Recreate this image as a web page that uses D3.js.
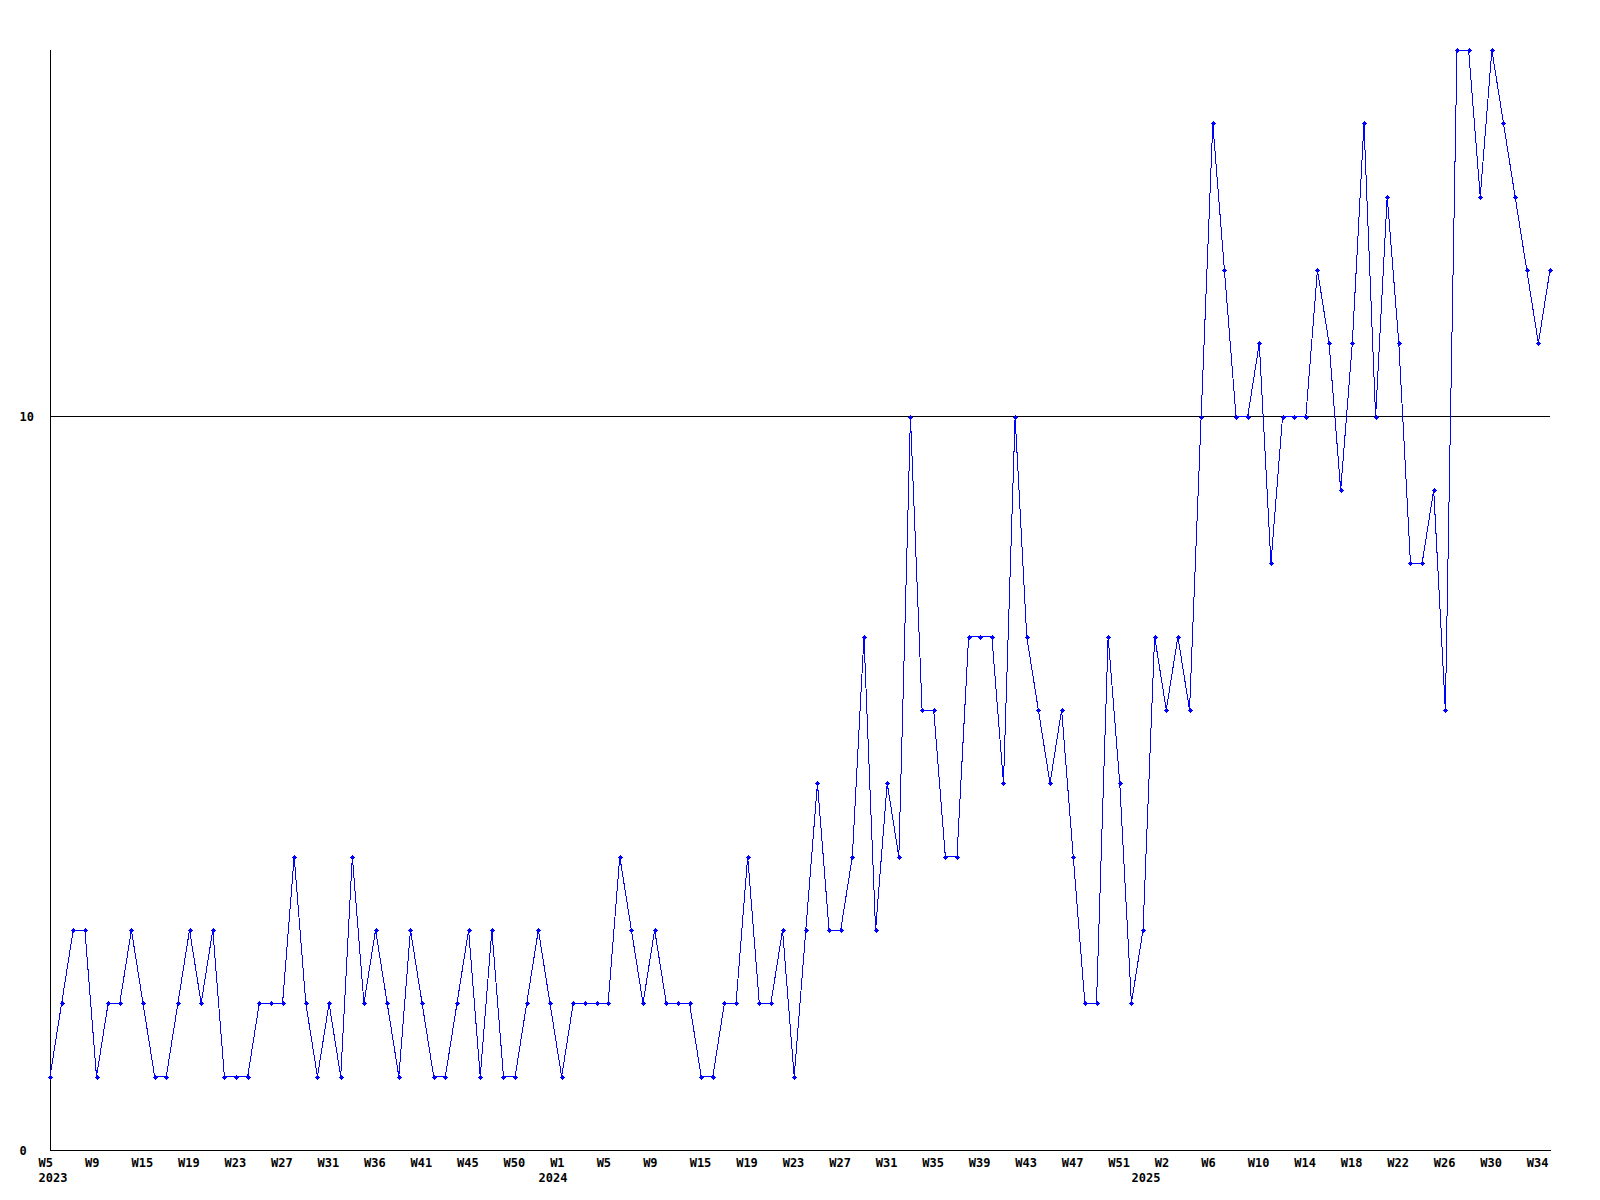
<!DOCTYPE html>
<html>
<head>
<meta charset="utf-8">
<script src="https://cdn.jsdelivr.net/npm/d3@7"></script>
<style>
  html, body { margin: 0; padding: 0; background: #fff; }
  svg { display: block; }
  text { font-family: "DejaVu Sans Mono", monospace; font-weight: bold; font-size: 12px; fill: #000; }
</style>
</head>
<body>
<svg id="chart" width="1600" height="1200"></svg>
<script>
// ---- data ----
const values = [
  1,2,3,3,1,2,2,3,2,1,1,2,3,2,3,1,1,1,2,2,2,4,2,1,2,1,4,2,3,2,
  1,3,2,1,1,2,3,1,3,1,1,2,3,2,1,2,2,2,2,4,3,2,3,2,2,2,1,1,2,2,
  4,2,2,3,1,3,5,3,3,4,7,3,5,4,10,6,6,4,4,7,7,7,5,10,7,6,5,6,4,2,
  2,7,5,2,3,7,6,7,6,10,14,12,10,10,11,8,10,10,10,12,11,9,11,14,10,13,11,8,8,9,
  6,15,15,13,15,14,13,12,11,12
];
const tickLabels = [
  "W5","W9","W15","W19","W23","W27","W31","W36","W41","W45","W50",
  "W1","W5","W9","W15","W19","W23","W27","W31","W35","W39","W43","W47","W51",
  "W2","W6","W10","W14","W18","W22","W26","W30","W34"
];
const tickEvery = 4;
const yearLabels = ["2023","2024","2025"];
const yearIndex = [0, 43, 94];
const yTicks = [0, 10];

// ---- chart ----
const svg = d3.select("#chart");
const pLeft = 50, pRight = 1550, pTop = 50, pBottom = 1150;

const x = d3.scaleLinear().domain([0, values.length - 1]).range([pLeft, pRight]);
const y = d3.scaleLinear().domain([0, 15]).range([pBottom, pTop]);

// gridline at 10
svg.append("g").selectAll("line").data(yTicks.filter(d => d > 0)).join("line")
  .attr("x1", pLeft).attr("x2", pRight)
  .attr("y1", d => Math.floor(y(d)) + 0.5).attr("y2", d => Math.floor(y(d)) + 0.5)
  .attr("stroke", "#000").attr("stroke-width", 1).attr("shape-rendering", "crispEdges");

// axes lines
svg.append("line").attr("x1", pLeft + 0.5).attr("x2", pLeft + 0.5).attr("y1", pTop).attr("y2", pBottom + 1)
  .attr("stroke", "#000").attr("shape-rendering", "crispEdges");
svg.append("line").attr("x1", pLeft).attr("x2", pRight + 1).attr("y1", pBottom + 0.5).attr("y2", pBottom + 0.5)
  .attr("stroke", "#000").attr("shape-rendering", "crispEdges");

// y labels
svg.append("g").selectAll("text").data(yTicks).join("text")
  .attr("x", 19.5).attr("y", d => y(d) + 4.5)
  .text(d => d);

// x tick labels
svg.append("g").selectAll("text").data(tickLabels).join("text")
  .attr("x", (d, i) => x(i * tickEvery) - 11.5)
  .attr("y", 1167)
  .text(d => d);

// year labels
svg.append("g").selectAll("text").data(yearLabels).join("text")
  .attr("x", (d, i) => x(yearIndex[i]) - 11.5)
  .attr("y", 1182)
  .text(d => d);

// line
const line = d3.line().x((d, i) => x(i)).y(d => y(d));
svg.append("path").datum(values)
  .attr("d", line)
  .attr("fill", "none").attr("stroke", "#0000ff").attr("stroke-width", 1)
  .attr("shape-rendering", "crispEdges");

// markers
const cross = "M-2.5,-0.5H-1.5V-1.5H-0.5V-2.5H0.5V-1.5H1.5V-0.5H2.5V0.5H1.5V1.5H0.5V2.5H-0.5V1.5H-1.5V0.5H-2.5Z";
svg.append("g").selectAll("path").data(values).join("path")
  .attr("d", cross)
  .attr("transform", (d, i) => `translate(${Math.round(x(i)) + 0.5},${Math.round(y(d)) + 0.5})`)
  .attr("fill", "#0000ff");
</script>
</body>
</html>
